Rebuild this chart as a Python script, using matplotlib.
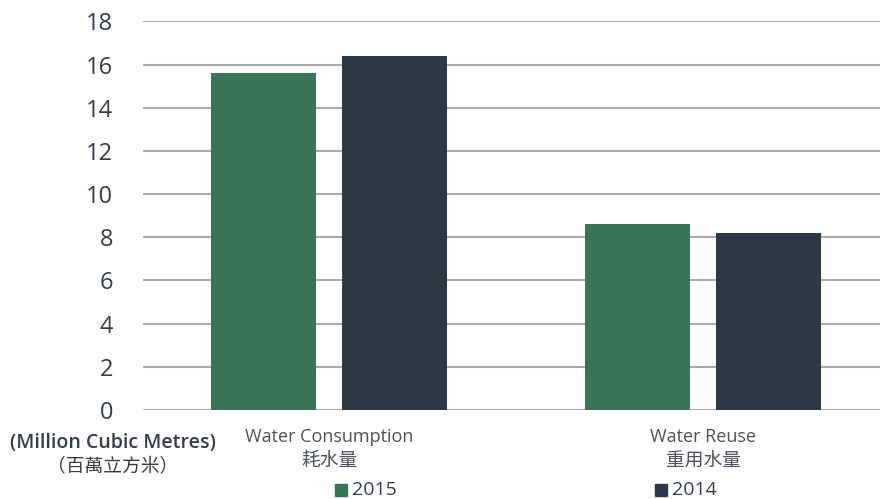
import matplotlib
matplotlib.use("Agg")
import matplotlib.pyplot as plt
from matplotlib.patches import Rectangle

categories_en = ["Water Consumption", "Water Reuse"]
categories_zh = ["耗水量", "重用水量"]
series_names = ["2015", "2014"]
values_2015 = [15.6, 8.6]
values_2014 = [16.4, 8.2]
yticks = [0, 2, 4, 6, 8, 10, 12, 14, 16, 18]
unit_en = "(Million Cubic Metres)"
unit_zh = "（百萬立方米）"

colors = ["#387556", "#2d3847"]
txt = "#333d4a"
lbl = "#4a525c"
fam = ["Open Sans", "Noto Sans CJK TC", "DejaVu Sans"]
plt.rcParams['font.family'] = fam

fig = plt.figure(figsize=(8.8, 4.99), dpi=100)
W, H = 880, 499
left, right, bottom, top = 143, 880, 410, 21.4
ax = fig.add_axes([left / W, 1 - bottom / H, (right - left) / W, (bottom - top) / H])

x = [0, 1]
bw = 0.281
off = 0.175
ax.bar([i - off for i in x], values_2015, width=bw, color=colors[0], zorder=3)
ax.bar([i + off for i in x], values_2014, width=bw, color=colors[1], zorder=3)

ax.set_xlim(-0.497, 1.473)
ax.set_ylim(0, 18)
ax.set_yticks(yticks)
ax.set_yticklabels([str(t) for t in yticks], fontsize=17, color=txt)
ax.tick_params(axis='y', length=0, pad=21.6)
ax.set_xticks([])
for s in ax.spines.values():
    s.set_visible(False)
ax.yaxis.grid(True, color="#aaaaaa", linewidth=1.5, zorder=0)

for i in x:
    xp = (329 + 374 * i) / W
    fig.text(xp, 1 - 437 / H, categories_en[i], ha='center', va='center', fontsize=13, color=lbl)
    fig.text(xp, 1 - 461 / H, categories_zh[i], ha='center', va='center', fontsize=13.5, color=lbl)

fig.text(113 / W, 1 - 443 / H, unit_en, ha='center', va='center', fontsize=14, color=txt, fontweight='semibold')
fig.text(113 / W, 1 - 467 / H, unit_zh, ha='center', va='center', fontsize=13.5,
         color=txt, family=["Noto Sans CJK TC", "DejaVu Sans"])

leg_x = [335, 655]
for j, name in enumerate(series_names):
    fig.patches.append(Rectangle((leg_x[j] / W, 1 - 496 / H), 12 / W, 12 / H,
                                 transform=fig.transFigure, color=colors[j]))
    fig.text((leg_x[j] + 17) / W, 1 - 490 / H, name, ha='left', va='center', fontsize=14, color=txt)

fig.savefig("out.png", dpi=100)
